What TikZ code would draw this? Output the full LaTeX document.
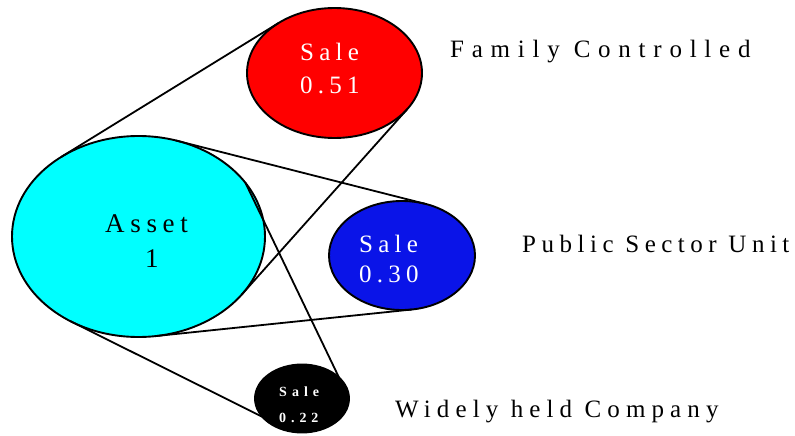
\documentclass[tikz,border=0pt]{standalone}
\usepackage{fontspec}
\setmainfont{Liberation Serif}
\usetikzlibrary{shapes.geometric,calc}
\definecolor{assetcyan}{RGB}{0,255,255}
\definecolor{salered}{RGB}{255,0,0}
\definecolor{saleblue}{RGB}{10,20,232}
\tikzset{
  blob/.style={ellipse, draw=black, line width=1.9pt, inner sep=0pt, outer sep=0pt},
  conn/.style={draw=black, line width=1.8pt},
  lbl/.style={anchor=base west, inner sep=0pt},
}
\begin{document}
\begin{tikzpicture}[x=1pt,y=-1pt]
\useasboundingbox (0,0) rectangle (795,436);
% ellipses
\node[blob, fill=assetcyan, minimum width=253pt, minimum height=201pt] (asset) at (138.5,236.5) {};
\node[blob, fill=salered, minimum width=175pt, minimum height=130pt] (red) at (334.5,73) {};
\node[blob, fill=saleblue, minimum width=146pt, minimum height=109pt] (blue) at (402,255.5) {};
\node[blob, fill=black, minimum width=94pt, minimum height=68pt] (blk) at (302,398.5) {};
% connectors
\draw[conn] ($(asset.center)+(232.2:126.5 and 100.5)$) -- ($(red.center)+(230.3:87.5 and 65)$);
\draw[conn] ($(asset.center)+(287.1:126.5 and 100.5)$) -- ($(blue.center)+(288.1:73 and 54.5)$);
\draw[conn] ($(asset.center)+(35.4:126.5 and 100.5)$) -- ($(red.center)+(33.6:87.5 and 65)$);
\draw[conn] ($(asset.center)+(327.7:126.5 and 100.5)$) -- ($(blk.center)+(322:47 and 34)$);
\draw[conn] ($(asset.center)+(82.5:126.5 and 100.5)$) -- ($(blue.center)+(82.1:73 and 54.5)$);
\draw[conn] ($(asset.center)+(122.7:126.5 and 100.5)$) -- ($(blk.center)+(147.3:47 and 34)$);
% texts in ellipses
\node[lbl, text=white, font=\fontsize{25}{28}\selectfont\addfontfeature{LetterSpace=21}] (redt1) at (300,60) {Sale};
\node[lbl, text=white, font=\fontsize{25}{28}\selectfont\addfontfeature{LetterSpace=21}] (redt2) at (300,93) {0.51};
\node[lbl, text=black, font=\fontsize{27}{30}\selectfont\addfontfeature{LetterSpace=21}] (asst1) at (105,232) {Asset};
\node[lbl, text=black, font=\fontsize{27}{30}\selectfont\addfontfeature{LetterSpace=21}] (asst2) at (145,267) {1};
\node[lbl, text=white, font=\fontsize{25}{28}\selectfont\addfontfeature{LetterSpace=21}] (blut1) at (359,252) {Sale};
\node[lbl, text=white, font=\fontsize{25}{28}\selectfont\addfontfeature{LetterSpace=21}] (blut2) at (359,282) {0.30};
\node[lbl, text=white, font=\fontsize{14}{16}\selectfont\bfseries\addfontfeature{LetterSpace=36}] (blkt1) at (279,396) {Sale};
\node[lbl, text=white, font=\fontsize{14}{16}\selectfont\bfseries\addfontfeature{LetterSpace=35}] (blkt2) at (279,422) {0.22};
% side labels
\node[lbl, font=\fontsize{25}{28}\selectfont\addfontfeature{LetterSpace=31}] (fam) at (450,58) {Family Controlled};
\node[lbl, font=\fontsize{25}{28}\selectfont\addfontfeature{LetterSpace=22}] (psu) at (522,252) {Public Sector Unit};
\node[lbl, font=\fontsize{25}{28}\selectfont\addfontfeature{LetterSpace=24.5}] (whc) at (395,417) {Widely held Company};
\end{tikzpicture}
\end{document}
